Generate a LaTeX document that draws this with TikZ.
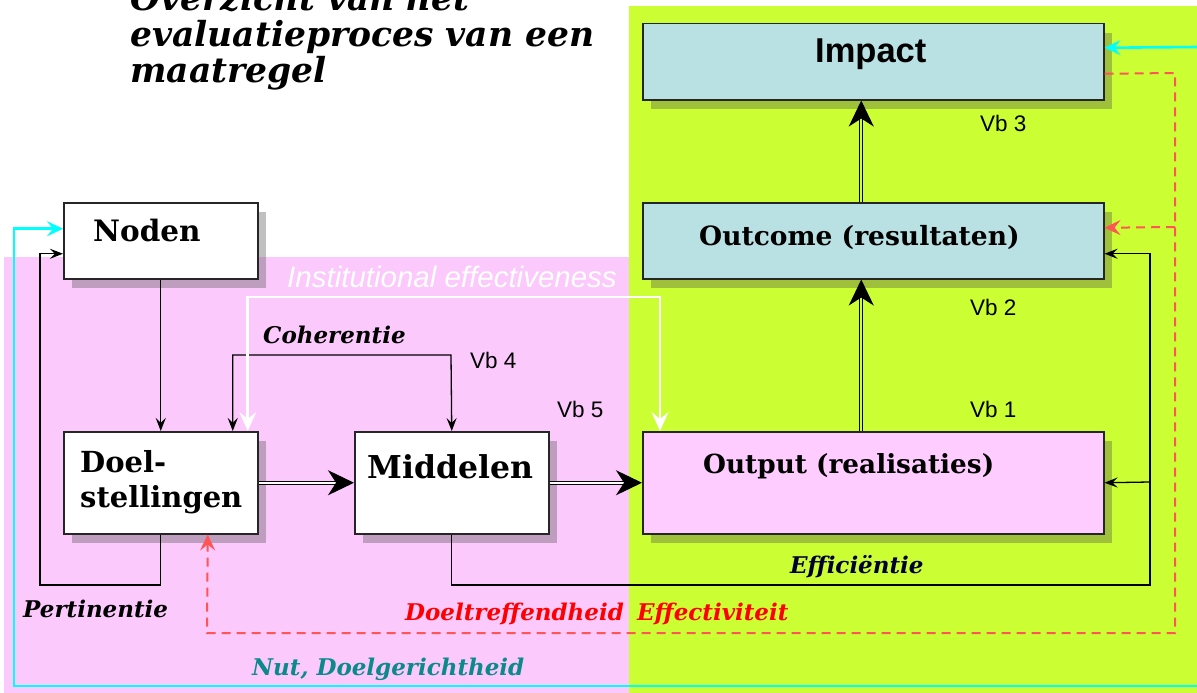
\documentclass[tikz,border=0pt]{standalone}
\usepackage{fontspec}
\usetikzlibrary{arrows.meta,shadows}
\newfontfamily\dvs{DejaVu Serif}
\newfontfamily\arial{Liberation Sans}
\definecolor{greenbg}{RGB}{204,255,51}
\definecolor{pinkbg}{RGB}{252,201,252}
\definecolor{pinkbox}{RGB}{255,204,255}
\definecolor{bluebox}{RGB}{185,224,226}
\definecolor{reddash}{RGB}{255,85,85}
\definecolor{tealtxt}{RGB}{10,138,138}
\definecolor{navytxt}{RGB}{0,0,50}
\definecolor{cyanline}{RGB}{0,255,255}
\tikzset{
  box/.style={draw=black!85, line width=1.5pt, anchor=north west, inner sep=0pt,
    drop shadow={shadow xshift=8pt, shadow yshift=-9pt, fill=black!70, opacity=0.35}},
  lbl/.style={anchor=base west, inner sep=0pt},
  thinarr/.style={draw=black, line width=1.3pt, -{Stealth[length=13pt,width=10pt,inset=5pt]}},
  bigarr/.style={draw=black, line width=1.2pt, double distance=1.6pt, -{Stealth[length=26pt,width=25pt,inset=8pt]}},
  whitearr/.style={draw=white, line width=2.6pt, {Stealth[length=19pt,width=17pt,inset=7pt]}-{Stealth[length=19pt,width=17pt,inset=7pt]}},
  cyanarr/.style={draw=cyanline, line width=2.6pt, -{Stealth[length=16pt,width=15pt,inset=6pt]}},
  redarr/.style={draw=reddash, line width=2pt, dash pattern=on 9pt off 6pt, -{Stealth[length=16pt,width=15pt,inset=6pt]}},
  boxtxt/.style={lbl, font=\dvs\bfseries\fontsize{26}{28}\selectfont},
  ittxt/.style={lbl, font=\dvs\bfseries\itshape\fontsize{23}{24}\selectfont},
  vbtxt/.style={lbl, font=\arial\fontsize{22.5}{24}\selectfont},
}
\begin{document}
\begin{tikzpicture}[x=1pt,y=-1pt]
\useasboundingbox (0,0) rectangle (1197,693);
% backgrounds
\fill[white] (0,0) rectangle (1197,693);
\fill[greenbg] (629,6) rectangle (1197,693);
\fill[pinkbg] (4,257) rectangle (629,693);
% title
\begin{scope}
\clip (0,0) rectangle (620,92);
\node[lbl, font=\dvs\bfseries\itshape\fontsize{34.5}{36}\selectfont] (t1) at (130,11) {Overzicht van het};
\node[lbl, font=\dvs\bfseries\itshape\fontsize{34.5}{36}\selectfont] (t2) at (130,47) {evaluatieproces van een};
\node[lbl, font=\dvs\bfseries\itshape\fontsize{34.5}{36}\selectfont] (t3) at (130,83) {maatregel};
\end{scope}
% boxes
\node[box, fill=white, minimum width=194pt, minimum height=76pt] (noden) at (63,202) {};
\node[box, fill=white, minimum width=194pt, minimum height=102pt] (doel) at (63,431) {};
\node[box, fill=white, minimum width=194pt, minimum height=102pt] (midd) at (354,431) {};
\node[box, fill=pinkbox, minimum width=461pt, minimum height=102pt] (output) at (642,431) {};
\node[box, fill=bluebox, minimum width=461pt, minimum height=76pt] (outcome) at (642,202) {};
\node[box, fill=bluebox, minimum width=461pt, minimum height=76pt] (impact) at (642,23) {};
% box texts
\node[boxtxt, font=\dvs\bfseries\fontsize{29.5}{30}\selectfont] (nodenT) at (93,241) {Noden};
\node[boxtxt, font=\dvs\bfseries\fontsize{29}{30}\selectfont] (doelT1) at (80,472) {Doel-};
\node[boxtxt, font=\dvs\bfseries\fontsize{29}{30}\selectfont] (doelT2) at (80,507) {stellingen};
\node[boxtxt, font=\dvs\bfseries\fontsize{31.5}{32}\selectfont] (middT) at (367,478) {Middelen};
\node[boxtxt, font=\dvs\bfseries\fontsize{26.3}{28}\selectfont] (outputT) at (703,473) {Output (realisaties)};
\node[boxtxt, font=\dvs\bfseries\fontsize{26.5}{28}\selectfont] (outcomeT) at (699,245) {Outcome (resultaten)};
\node[lbl, font=\arial\bfseries\fontsize{34.5}{36}\selectfont] (impactT) at (815,63) {Impact};
% coordinates
\coordinate (p1) at (40,585);
\coordinate (e1) at (1150,585);
\coordinate (e2) at (1150,482);
\coordinate (h1) at (451,355);
\coordinate (w1) at (660,297);
\coordinate (r1) at (1175,73);
\coordinate (r2) at (207,633);
\coordinate (r3) at (1175,227);
\coordinate (ct) at (1197,47);
\coordinate (cb) at (1197,686);
\coordinate (c2) at (14,686);
% connectors
\draw[thinarr] (noden) -- (doel);
\draw[thinarr] (doel.south) |- (p1) |- ([yshift=-13pt]noden.west);
\draw[thinarr, {Stealth[length=13pt,width=10pt,inset=5pt]}-{Stealth[length=13pt,width=10pt,inset=5pt]}] ([xshift=72pt]doel.north) |- (h1) -- (midd.north);
\draw[whitearr] ([xshift=87pt]doel.north) |- (w1) -- ([xshift=18pt]output.north west);
\draw[bigarr, double=white] (doel.east) -- (midd.west);
\draw[bigarr, double=white] (midd.east) -- (output.west);
\draw[bigarr, double=greenbg] ([xshift=-12pt]output.north) -- ([xshift=-12pt]outcome.south);
\draw[bigarr, double=greenbg] ([xshift=-12pt]outcome.north) -- ([xshift=-12pt]impact.south);
\draw[thinarr] (midd.south) |- (e1) |- ([yshift=-13pt]outcome.east);
\draw[thinarr] (e2) -- (output.east);
\draw[redarr] ([yshift=-12pt]impact.east) -- (r1) |- (r2) -- ([xshift=47pt]doel.south);
\draw[redarr] (r3) -- ([yshift=13pt]outcome.east);
\draw[cyanarr] (ct) -- ([yshift=14pt]impact.east);
\draw[cyanarr] (cb) -- (c2) |- ([yshift=12pt]noden.west);
% labels
\node[lbl, font=\arial\itshape\fontsize{29.5}{30}\selectfont, text=white] (inst) at (287,287) {Institutional effectiveness};
\node[ittxt] (coh) at (263,343) {Coherentie};
\node[ittxt] (pert) at (23,617) {Pertinentie};
\node[ittxt, text=red] (doeltr) at (405,620) {Doeltreffendheid};
\node[ittxt, text=red] (effect) at (637,620) {Effectiviteit};
\node[ittxt, text=navytxt] (effic) at (790,573) {Efficiëntie};
\node[ittxt, text=tealtxt] (nut) at (252,675) {Nut, Doelgerichtheid};
\node[vbtxt] (vb3) at (980,131) {Vb 3};
\node[vbtxt] (vb2) at (970,315) {Vb 2};
\node[vbtxt] (vb1) at (970,417) {Vb 1};
\node[vbtxt] (vb4) at (470,368) {Vb 4};
\node[vbtxt] (vb5) at (557,417) {Vb 5};
\end{tikzpicture}
\end{document}
